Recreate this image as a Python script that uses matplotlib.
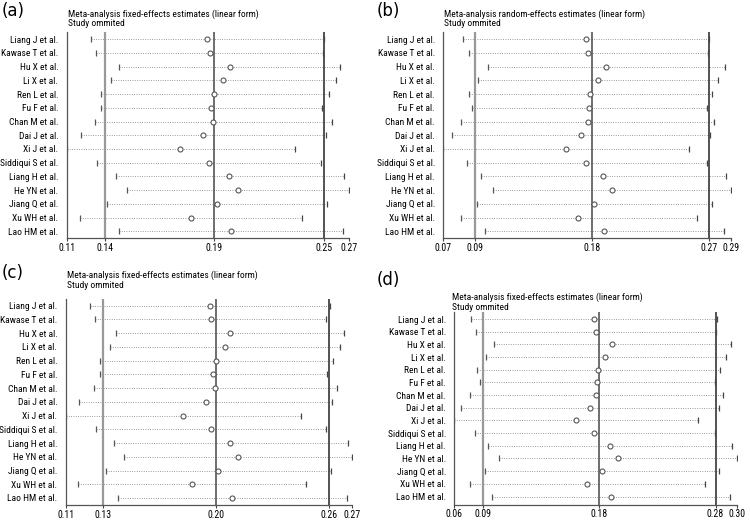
import matplotlib
matplotlib.use("Agg")
import matplotlib.pyplot as plt
from matplotlib import font_manager

names = ["Liang J et al.", "Kawase T et al.", "Hu X et al.", "Li X et al.", "Ren L et al.",
         "Fu F et al.", "Chan M et al.", "Dai J et al.", "Xi J et al.", "Siddiqui S et al.",
         "Liang H et al.", "He YN et al.", "Jiang Q et al.", "Xu WH et al.", "Lao HM et al."]

# Panel (a)
est_a = [0.1897, 0.1910, 0.2024, 0.1988, 0.1935, 0.1918, 0.1929, 0.1873, 0.1744, 0.1907,
         0.2022, 0.2069, 0.1950, 0.1803, 0.2031]
low_a = [0.1240, 0.1268, 0.1398, 0.1351, 0.1293, 0.1295, 0.1262, 0.1181, 0.1100, 0.1272,
         0.1378, 0.1442, 0.1329, 0.1176, 0.1398]
up_a = [0.2558, 0.2553, 0.2651, 0.2626, 0.2585, 0.2545, 0.2602, 0.2568, 0.2396, 0.2541,
        0.2670, 0.2700, 0.2573, 0.2434, 0.2666]
ref_a = [0.1317, 0.1937, 0.2556]
ticks_a = [0.11, 0.1317, 0.1937, 0.2556, 0.27]
ticklabels_a = ["0.11", "0.14", "0.19", "0.25", "0.27"]

# Panel (b)
est_b = [0.1790, 0.1805, 0.1942, 0.1879, 0.1820, 0.1815, 0.1802, 0.1752, 0.1634, 0.1792,
         0.1917, 0.1986, 0.1853, 0.1729, 0.1927]
low_b = [0.0848, 0.0894, 0.1044, 0.0967, 0.0896, 0.0919, 0.0837, 0.0766, 0.0700, 0.0883,
         0.0985, 0.1077, 0.0957, 0.0832, 0.1018]
up_b = [0.2729, 0.2722, 0.2854, 0.2800, 0.2755, 0.2714, 0.2770, 0.2739, 0.2574, 0.2711,
        0.2862, 0.2900, 0.2755, 0.2635, 0.2844]
ref_b = [0.0939, 0.1836, 0.2727]
ticks_b = [0.07, 0.0939, 0.1836, 0.2727, 0.29]
ticklabels_b = ["0.07", "0.09", "0.18", "0.27", "0.29"]

# Panel (c)
est_c = [0.1904, 0.1911, 0.2017, 0.1987, 0.1939, 0.1922, 0.1935, 0.1881, 0.1753, 0.1909,
         0.2017, 0.2062, 0.1948, 0.1805, 0.2027]
low_c = [0.1238, 0.1266, 0.1383, 0.1349, 0.1290, 0.1293, 0.1256, 0.1176, 0.1100, 0.1269,
         0.1370, 0.1427, 0.1323, 0.1169, 0.1390]
up_c = [0.2577, 0.2555, 0.2655, 0.2631, 0.2594, 0.2557, 0.2616, 0.2587, 0.2415, 0.2555,
        0.2674, 0.2700, 0.2579, 0.2441, 0.2668]
ref_c = [0.1310, 0.1941, 0.2568]
ticks_c = [0.11, 0.1310, 0.1941, 0.2568, 0.27]
ticklabels_c = ["0.11", "0.13", "0.20", "0.26", "0.27"]

# Panel (d)
est_d = [0.1784, 0.1801, 0.1940, 0.1881, 0.1818, 0.1813, 0.1799, 0.1748, 0.1629, 0.1787,
         0.1920, 0.1988, 0.1849, 0.1725, 0.1929]
low_d = [0.0744, 0.0787, 0.0939, 0.0869, 0.0795, 0.0820, 0.0733, 0.0657, 0.0600, 0.0778,
         0.0883, 0.0979, 0.0860, 0.0730, 0.0917]
up_d = [0.2830, 0.2816, 0.2949, 0.2901, 0.2853, 0.2808, 0.2876, 0.2842, 0.2669, 0.2808,
        0.2958, 0.3000, 0.2845, 0.2726, 0.2941]
ref_d = [0.0843, 0.1830, 0.2816]
ticks_d = [0.06, 0.0843, 0.1830, 0.2816, 0.30]
ticklabels_d = ["0.06", "0.09", "0.18", "0.28", "0.30"]

title_fixed = "Meta-analysis fixed-effects estimates (linear form)"
title_random = "Meta-analysis random-effects estimates (linear form)"
subtitle = "Study ommited"

avail = {f.name for f in font_manager.fontManager.ttflist}
narrow = [f for f in ["Liberation Sans Narrow", "Arial Narrow", "Roboto Condensed"] if f in avail]
if narrow:
    FAM = [narrow[0], "DejaVu Sans"]
    FS = 6.8
else:
    FAM = [f for f in ["Liberation Sans", "DejaVu Sans"] if f in avail]
    FS = 5.9
plt.rcParams["font.family"] = FAM

W, H = 750, 521
fig = plt.figure(figsize=(W / 100, H / 100), dpi=100)


def px_axes(left, right, top, bottom):
    return fig.add_axes([left / W, 1 - bottom / H, (right - left) / W, (bottom - top) / H])


def panel(box, est, low, up, ref, ticks, labels, title, ylim, title_xy, letter, letter_xy):
    ax = px_axes(*box)
    n = len(names)
    ys = list(range(n))
    for i in ys:
        ax.plot([low[i], up[i]], [i, i], color="#7a7a7a", lw=0.6, ls=(0, (1.0, 1.8)), zorder=1)
    ax.plot(low, ys, ls="none", marker="|", ms=5, mew=0.9, color="#555555", zorder=3)
    ax.plot(up, ys, ls="none", marker="|", ms=5, mew=0.9, color="#444444", zorder=3)
    ax.axvline(ref[0], color="#999999", lw=1.6, zorder=2)
    ax.axvline(ref[1], color="#555555", lw=1.2, zorder=2)
    ax.axvline(ref[2], color="#444444", lw=1.3, zorder=2)
    ax.plot(est, ys, ls="none", marker="o", ms=3.6, mfc="white", mec="#555555", mew=0.8, zorder=4)
    ax.set_xlim(ticks[0], ticks[-1])
    ax.set_ylim(*ylim)
    ax.set_yticks(ys)
    ax.set_yticklabels(names, fontsize=FS)
    ax.set_xticks(ticks)
    ax.set_xticklabels(labels, fontsize=FS + 0.3)
    ax.tick_params(axis="y", length=0, pad=6)
    ax.tick_params(axis="x", length=2.5, width=0.8, color="#444444", pad=1)
    for s in ["top", "right"]:
        ax.spines[s].set_visible(False)
    ax.spines["left"].set_color("#555555")
    ax.spines["bottom"].set_color("#555555")
    ax.spines["left"].set_linewidth(0.9)
    ax.spines["bottom"].set_linewidth(0.9)
    fig.text(title_xy[0] / W, 1 - title_xy[1] / H, title, fontsize=FS, va="center", ha="left")
    fig.text(title_xy[0] / W, 1 - (title_xy[1] + 10) / H, subtitle, fontsize=FS, va="center", ha="left")
    fig.text(letter_xy[0] / W, 1 - letter_xy[1] / H, letter, fontsize=12, va="center", ha="left",
             family=["DejaVu Sans"])
    return ax


panel((66.7, 349, 32, 238), est_a, low_a, up_a, ref_a, ticks_a, ticklabels_a, title_fixed,
      (14.49, -0.53), (68, 14), "(a)", (2, 11))
panel((443.3, 731.3, 32, 238), est_b, low_b, up_b, ref_b, ticks_b, ticklabels_b, title_random,
      (14.49, -0.53), (444, 14), "(b)", (377, 11))
panel((65.7, 352.3, 299.3, 505.0), est_c, low_c, up_c, ref_c, ticks_c, ticklabels_c, title_fixed,
      (14.51, -0.46), (67, 275), "(c)", (2, 273))
panel((454.3, 737.3, 311.7, 504.5), est_d, low_d, up_d, ref_d, ticks_d, ticklabels_d, title_fixed,
      (14.63, -0.58), (452, 297), "(d)", (377, 280))

fig.savefig("out.png", dpi=100)
